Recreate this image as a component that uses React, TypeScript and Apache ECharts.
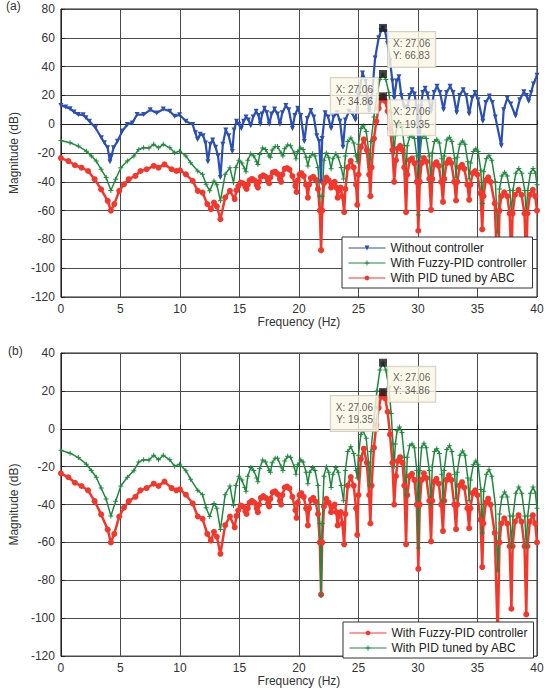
import React, { useEffect, useRef } from "react";
import * as echarts from "echarts";

// Frequency (Hz), magnitude (dB)
const withoutController: [number, number][] = [
  [0, 13], [0.4, 12], [0.77, 10.8], [1.1, 8.5], [1.46, 6.7], [1.87, 6.5], [2.1, 4.5], [2.4, 2], [2.9, -2.5], [3.4, -9.4], [3.65, -12.9], [3.93, -16.4], [4.12, -26], [4.25, -22], [4.42, -16.4], [4.75, -11.8], [5.16, -4.8], [5.58, -0.2], [6.0, 0.9], [6.4, 6.7], [6.95, 6.7], [7.5, 10], [8.05, 7.8], [8.6, 10.5], [9.15, 9], [9.56, 5.5], [9.97, 6.5], [10.5, 2], [11.07, -0.2], [11.3, -6], [11.48, -10.6], [11.7, -7], [11.95, -8], [12.15, -13], [12.35, -26], [12.55, -14], [12.75, -11], [13.0, -16], [13.2, -22], [13.4, -37], [13.6, -14], [13.85, -4], [14.1, -8], [14.4, -19],
  [14.55, -4], [14.75, 2], [14.95, 0], [15.15, -3], [15.35, 2], [15.55, 5], [15.75, 3], [15.95, -1], [16.15, 5], [16.4, 9], [16.6, 6], [16.75, 0], [16.9, 7], [17.1, 11], [17.3, 8], [17.5, 0], [17.7, 7], [17.95, 10.5], [18.2, 7], [18.4, 0], [18.6, 8], [18.9, 13], [19.15, 10], [19.45, -3], [19.65, 6], [19.9, 11], [20.15, 6], [20.45, -12], [20.7, 4], [21.0, 9.5], [21.25, 5], [21.5, -8], [21.7, -12], [21.85, -40], [21.95, -10], [22.2, 8], [22.45, 5], [22.7, -3], [22.9, 5], [23.2, 8], [23.45, 2], [23.7, -16], [23.9, 3], [24.2, 9], [24.5, 7], [24.75, 3], [25.0, 20], [25.34, 35.6], [25.6, 30], [25.9, 9], [26.15, 22], [26.4, 46], [26.7, 60], [26.9, 65], [27.06, 66.83], [27.25, 64], [27.45, 56], [27.65, 44], [27.85, 30], [28.0, 18], [28.2, 30], [28.4, 33], [28.6, 20],
  [28.85, 12], [29.1, 11.5], [29.3, 20], [29.5, 24], [29.7, 21], [29.9, 12], [30.1, -27], [30.25, 12], [30.4, 22], [30.6, 25], [30.8, 21], [31.1, 9], [31.35, 22], [31.6, 26.4], [31.85, 22], [32.15, 10], [32.4, 22], [32.7, 26.4], [32.95, 22], [33.25, 8], [33.5, 20], [33.8, 24], [34.05, 20], [34.3, 7], [34.55, 18], [34.8, 22], [35.05, 17], [35.45, 2], [35.7, 15], [36.0, 19.5], [36.25, 15], [36.5, 5], [37.0, -15], [37.2, 10], [37.5, 18], [37.8, 14], [38.2, 5.7], [38.55, 17], [38.9, 22.5], [39.1, 20], [39.3, 16], [39.5, 22], [39.7, 28], [40, 34],
];

const fuzzyPid: [number, number][] = [
  [0, -11.3], [0.77, -12.9], [1.46, -15.2], [2.14, -18.7], [2.55, -22], [2.97, -25.6], [3.38, -31.3], [3.8, -37.1], [4.2, -46], [4.6, -38.2], [5.03, -30.2], [5.58, -25.6], [6.13, -22.1], [6.54, -17.5], [6.95, -16.4], [7.4, -16.5], [7.8, -14], [8.2, -16.4], [8.6, -14], [9.15, -16.4], [9.56, -19.8], [9.97, -18.7], [10.5, -22.1], [10.9, -26.7], [11.5, -32.5], [11.9, -34.8], [12.2, -41.7], [12.5, -46.3], [12.86, -39.4], [13.1, -42], [13.4, -53.2], [13.8, -34.8], [14.2, -30.2], [14.5, -40.6],
  [14.7, -30], [14.95, -25], [15.2, -27], [15.45, -31], [15.55, -33], [15.7, -25], [15.95, -20.5], [16.2, -22], [16.45, -26], [16.55, -28], [16.7, -21], [16.95, -16.5], [17.2, -17.5], [17.5, -22], [17.6, -23], [17.75, -18], [18.0, -15.5], [18.2, -15.5], [18.5, -20], [18.65, -22], [18.8, -17], [19.05, -14.5], [19.3, -15], [19.6, -20], [19.75, -24], [19.9, -19], [20.15, -16.5], [20.35, -17.5], [20.6, -23], [20.75, -29], [20.9, -23], [21.15, -20.5], [21.35, -22], [21.6, -30], [21.75, -50], [21.86, -88], [21.95, -50], [22.1, -25], [22.3, -20], [22.5, -23], [22.7, -31], [22.85, -24], [23.1, -20.5], [23.3, -23], [23.55, -30], [23.75, -38], [23.9, -22], [24.1, -12], [24.36, -9.5], [24.6, -13], [24.8, -22], [24.9, -26], [25.0, -14], [25.2, -3], [25.4, -1], [25.65, -5], [25.85, -18], [25.95, -30], [26.05, -12], [26.3, 5], [26.55, 20], [26.8, 31], [27.06, 34.86], [27.3, 31], [27.55, 22], [27.75, 8], [27.9, -8], [28.0, -20], [28.1, -8], [28.25, -1], [28.45, 1], [28.65, -2], [28.85, -15], [29.0, -35], [29.1, -15], [29.3, -9], [29.5, -8], [29.7, -10], [29.9, -22], [30.03, -63], [30.15, -22], [30.3, -10], [30.5, -7.7], [30.7, -10], [30.95, -22], [31.1, -40], [31.2, -20], [31.38, -12], [31.58, -10.5], [31.8, -13], [32.0, -24], [32.1, -38], [32.2, -22], [32.42, -11], [32.64, -9], [32.85, -12], [33.08, -24], [33.2, -37], [33.3, -23], [33.52, -14], [33.75, -11.7], [33.95, -14], [34.18, -26], [34.3, -38], [34.42, -27], [34.65, -19], [34.86, -17], [35.05, -19], [35.28, -32], [35.4, -55], [35.52, -33], [35.75, -24], [35.97, -21.6], [36.2, -25], [36.5, -40], [36.7, -75], [36.85, -45], [37.05, -36], [37.28, -33.4], [37.5, -36], [37.72, -46], [37.85, -62], [37.98, -46], [38.22, -34], [38.47, -30.8], [38.72, -34], [38.97, -46], [39.1, -62], [39.22, -46], [39.45, -34], [39.67, -30.8], [39.87, -34], [40, -42],
];

const pidAbc: [number, number][] = [
  [0, -23.5], [0.63, -25.6], [1.18, -28.5], [1.73, -30.2], [2.28, -32.5], [2.83, -38.2], [3.38, -45.2], [3.93, -53.2], [4.2, -60], [4.48, -55.5], [4.9, -46.3], [5.3, -41.7], [5.7, -38.2], [6.26, -35.9], [6.68, -32.5], [7.2, -31.3], [7.8, -29], [8.2, -30.2], [8.7, -27.9], [9.3, -31.3], [9.7, -32.5], [10, -32], [10.5, -34.8], [11.07, -39.4], [11.5, -46.3], [11.9, -47.5], [12.3, -55.5], [12.6, -59], [12.86, -54.4], [13.1, -57], [13.4, -66], [13.8, -50.9], [14.2, -46.3], [14.6, -52],
  [14.75, -46], [14.9, -43], [15.1, -40.5], [15.3, -41], [15.5, -43.5], [15.6, -45], [15.7, -42], [15.85, -39], [16.05, -38], [16.25, -39], [16.45, -42], [16.55, -44], [16.65, -40], [16.8, -36.5], [17.0, -35.5], [17.2, -36.5], [17.4, -39.5], [17.5, -41], [17.6, -37], [17.8, -33.5], [18.0, -33], [18.2, -34.5], [18.4, -38], [18.5, -40], [18.6, -35], [18.8, -31], [19.0, -30.5], [19.2, -31.5], [19.45, -36], [19.7, -43], [19.8, -47], [19.9, -39], [20.05, -35], [20.2, -34], [20.4, -36], [20.6, -42], [20.75, -51], [20.85, -42], [21.0, -37.5], [21.2, -36.5], [21.4, -38.5], [21.6, -45], [21.75, -60], [21.86, -87.5], [21.95, -60], [22.1, -41], [22.3, -37], [22.5, -39], [22.7, -44], [22.85, -41], [23.0, -40], [23.15, -44], [23.25, -51], [23.35, -46], [23.5, -44], [23.65, -50], [23.8, -61], [23.9, -45], [24.1, -30], [24.35, -25.5], [24.6, -30], [24.8, -42], [24.9, -56], [25.0, -35], [25.2, -16], [25.45, -10.5], [25.7, -18], [25.9, -35], [26.0, -50], [26.1, -30], [26.3, -10], [26.5, 2], [26.7, 11], [26.9, 17], [27.06, 19.35], [27.25, 16], [27.45, 9], [27.65, -3], [27.85, -18], [28.0, -40], [28.15, -25], [28.3, -17], [28.5, -15], [28.7, -18], [28.85, -30], [29.0, -61], [29.1, -35], [29.3, -25], [29.5, -23.8], [29.7, -27], [29.9, -40], [30.03, -74], [30.15, -40], [30.3, -27], [30.5, -23.5], [30.7, -26], [30.95, -38], [31.1, -59.5], [31.2, -38], [31.35, -28], [31.55, -26.4], [31.75, -29], [31.95, -40], [32.1, -54], [32.2, -38], [32.4, -27], [32.6, -24.6], [32.8, -27], [33.05, -40], [33.2, -53], [33.3, -40], [33.5, -30], [33.7, -28.2], [33.9, -31], [34.15, -42], [34.3, -52.5], [34.4, -42], [34.6, -34], [34.8, -32.5], [35.0, -35], [35.25, -48], [35.4, -73], [35.5, -50], [35.7, -39], [35.9, -36.9], [36.1, -40], [36.45, -55], [36.7, -110], [36.85, -60], [37.0, -50], [37.25, -47.3], [37.5, -50], [37.7, -62], [37.85, -95], [37.95, -62], [38.15, -49], [38.45, -45.6], [38.7, -49], [38.95, -62], [39.1, -98], [39.2, -62], [39.4, -49], [39.65, -45.6], [39.85, -50], [40, -60],
];

const xTicks = { min: 0, max: 40, interval: 5 };
const yTicksA = { min: -120, max: 80, interval: 20 };
const yTicksB = { min: -120, max: 40, interval: 20 };

const tipX = 27.06;
const tipsA: { y: number; side: "left" | "right" }[] = [
  { y: 66.83, side: "right" },
  { y: 34.86, side: "left" },
  { y: 19.35, side: "right" },
];
const tipsB: { y: number; side: "left" | "right" }[] = [
  { y: 34.86, side: "right" },
  { y: 19.35, side: "left" },
];

const legendA = ["Without controller", "With Fuzzy-PID controller", "With PID tuned by ABC"];
const legendB = ["With Fuzzy-PID controller", "With PID tuned by ABC"];

const BLUE = "#2a4fb8";
const GREEN = "#1f8a3d";
const RED = "#f4362b";
const FONT = "Liberation Sans, Arial, sans-serif";
const PLUS = "path://M4,0h2v10h-2zM0,4h10v2h-10z";

function xAxis(gridIndex: number) {
  return {
    gridIndex,
    type: "value",
    ...xTicks,
    name: "Frequency (Hz)",
    nameLocation: "middle",
    nameGap: 18,
    nameTextStyle: { fontSize: 12, color: "#333", fontFamily: FONT },
    axisLine: { show: true, lineStyle: { color: "#222", width: 1 } },
    axisTick: { show: true, inside: true, length: 4, lineStyle: { color: "#222" } },
    axisLabel: { fontSize: 12, color: "#333", fontFamily: FONT, margin: 6 },
    splitLine: { show: true, lineStyle: { color: "#4a4a4a", width: 1 } },
  };
}

function yAxis(gridIndex: number, ticks: { min: number; max: number; interval: number }) {
  return {
    gridIndex,
    type: "value",
    ...ticks,
    name: "Magnitude (dB)",
    nameLocation: "middle",
    nameGap: 32,
    nameTextStyle: { fontSize: 12, color: "#333", fontFamily: FONT },
    axisLine: { show: true, lineStyle: { color: "#222", width: 1 } },
    axisTick: { show: true, inside: true, length: 4, lineStyle: { color: "#222" } },
    axisLabel: { fontSize: 12, color: "#333", fontFamily: FONT, margin: 6 },
    splitLine: { show: true, lineStyle: { color: "#4a4a4a", width: 1 } },
  };
}

function tipSeries(id: string, idx: number, tips: { y: number; side: "left" | "right" }[]) {
  return {
    id,
    type: "scatter",
    xAxisIndex: idx,
    yAxisIndex: idx,
    symbol: "rect",
    symbolSize: 8,
    z: 20,
    itemStyle: { color: "#1a1a1a" },
    data: tips.map((t) => ({
      value: [tipX, t.y],
      label: {
        show: true,
        formatter: `X: ${tipX.toFixed(2)}\nY: ${t.y.toFixed(2)}`,
        position: t.side === "right" ? [9, 8] : [-1, 8],
        align: t.side === "right" ? "left" : "right",
        verticalAlign: "top",
        fontSize: 10,
        lineHeight: 12.5,
        color: "#333",
        fontFamily: FONT,
        backgroundColor: "#fbf8e6",
        borderColor: "#c9c6b8",
        borderWidth: 1,
        padding: [5, 5, 5, 5],
      },
    })),
  };
}

function lineSeries(name: string, idx: number, data: [number, number][], color: string, symbol: string, size: number, width: number, extra: any = {}) {
  return {
    name,
    type: "line",
    xAxisIndex: idx,
    yAxisIndex: idx,
    data,
    symbol,
    symbolSize: size,
    showSymbol: true,
    lineStyle: { color, width },
    itemStyle: { color, borderWidth: 0 },
    emphasis: { disabled: true },
    ...extra,
  };
}

export default function App() {
  const ref = useRef<HTMLDivElement>(null);
  useEffect(() => {
    if (!ref.current) return;
    const chart = echarts.init(ref.current, undefined, { renderer: "svg" });
    const labelMap: Record<string, string> = {
      a0: legendA[0], a1: legendA[1], a2: legendA[2],
      b0: legendB[0], b1: legendB[1],
    };
    const legendBase = {
      formatter: (n: string) => labelMap[n],
      orient: "vertical",
      itemWidth: 37,
      itemHeight: 6,
      itemGap: 3,
      padding: [5, 6, 4, 6],
      backgroundColor: "#fff",
      borderColor: "#333",
      borderWidth: 1,
      borderRadius: 0,
      lineStyle: { width: 1 },
      textStyle: { fontSize: 12, color: "#222", fontFamily: FONT },
      selectedMode: false,
      z: 30,
    };
    chart.setOption({
      animation: false,
      backgroundColor: "#fff",
      textStyle: { fontFamily: FONT },
      grid: [
        { left: 52, top: 9, width: 485, height: 288, show: true, borderColor: "#222", borderWidth: 1, backgroundColor: "#fff" },
        { left: 52, top: 353, width: 485, height: 311, show: true, borderColor: "#222", borderWidth: 1, backgroundColor: "#fff" },
      ],
      xAxis: [xAxis(0), xAxis(1)],
      yAxis: [yAxis(0, yTicksA), yAxis(1, yTicksB)],
      legend: [
        { ...legendBase, data: ["a0", "a1", "a2"], left: 342, top: 237 },
        { ...legendBase, data: ["b0", "b1"], left: 343, top: 622 },
      ],
      graphic: [
        { type: "text", left: 6, top: 0, style: { text: "(a)", fontSize: 12, fill: "#333", fontFamily: FONT } },
        { type: "text", left: 8, top: 345, style: { text: "(b)", fontSize: 12, fill: "#333", fontFamily: FONT } },
      ],
      series: [
        lineSeries("a0", 0, withoutController, BLUE, "triangle", 5, 2.2, { symbolRotate: 180 }),
        lineSeries("a1", 0, fuzzyPid, GREEN, PLUS, 5, 1.5),
        lineSeries("a2", 0, pidAbc, RED, "circle", 6, 2.5),
        tipSeries("tipsA", 0, tipsA),
        lineSeries("b0", 1, pidAbc, RED, "circle", 6, 2.5),
        lineSeries("b1", 1, fuzzyPid, GREEN, PLUS, 5, 1.5),
        tipSeries("tipsB", 1, tipsB),
      ],
    });
    return () => chart.dispose();
  }, []);
  return (
    <div
      ref={ref}
      style={{ position: "absolute", left: 0, top: 0, width: 547, height: 688 }}
    />
  );
}
